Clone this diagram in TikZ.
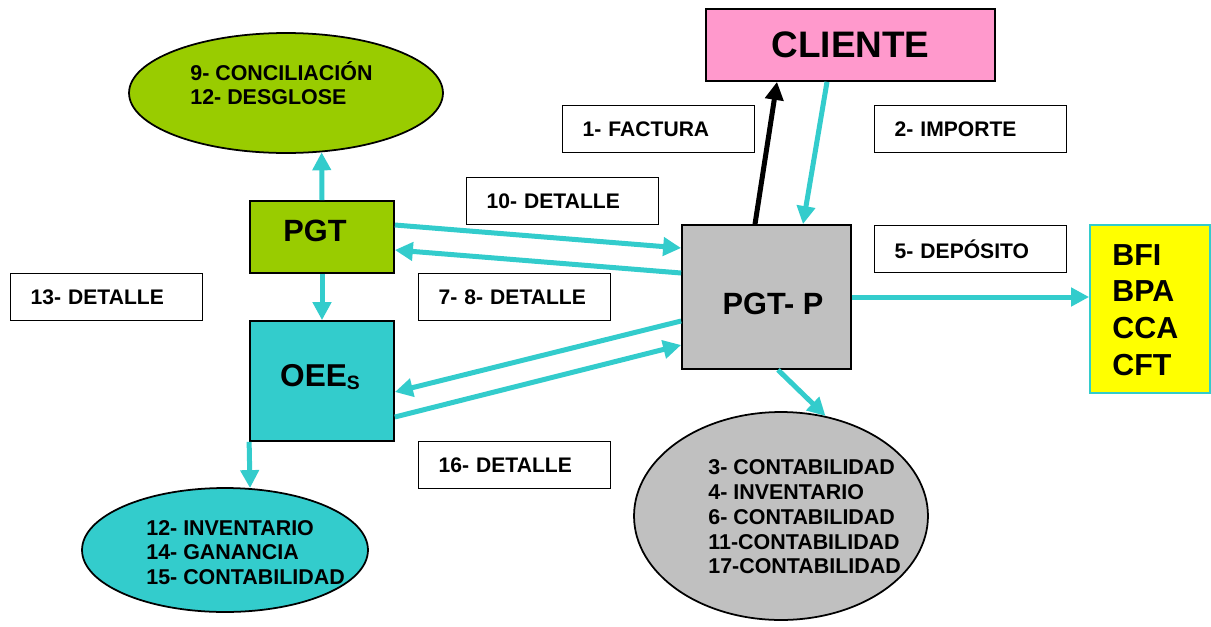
\documentclass[tikz,border=0pt]{standalone}
\usepackage{fontspec}
\setmainfont{Liberation Sans}
\usetikzlibrary{arrows.meta,shapes.geometric,calc}
\definecolor{pgtgreen}{HTML}{99CC00}
\definecolor{oeeteal}{HTML}{33CCCC}
\definecolor{clientpink}{HTML}{FF99CC}
\definecolor{pgtgray}{HTML}{C0C0C0}
\definecolor{bankyellow}{HTML}{FFFF00}

\begin{document}
\begin{tikzpicture}[x=0.02cm,y=-0.02cm,
  every node/.style={font=\bfseries},
  block/.style={draw=black,line width=1pt,rectangle,inner sep=0pt},
  blocktext/.style={inner sep=0pt,font=\bfseries\fontsize{17.5}{20}\selectfont},
  tag/.style={draw=black,line width=0.8pt,rectangle,anchor=north west,
    minimum height=0.94cm,text width=3.04cm,inner xsep=0.4cm,inner ysep=0pt,
    align=left,font=\bfseries\fontsize{12}{14}\selectfont},
  blob/.style={ellipse,draw=black,line width=1pt,inner sep=0pt},
  listtext/.style={anchor=west,align=left,inner sep=0pt,
    font=\bfseries\fontsize{12.2}{14.1}\selectfont},
  flow/.style={draw=oeeteal,line width=0.1cm,-{Triangle[length=0.36cm,width=0.36cm]}},
  sendflow/.style={flow,draw=black}
]
\useasboundingbox (0,0) rectangle (1211,626);

% main blocks
\node[block,fill=clientpink,minimum width=5.78cm,minimum height=1.44cm,
  font=\bfseries\fontsize{21}{25}\selectfont] (cliente) at (850.5,45) {CLIENTE};

\node[block,fill=pgtgreen,minimum width=2.88cm,minimum height=1.44cm] (pgt) at (322,237) {};
\node[blocktext] (pgtT) at (315,231) {PGT};

\node[block,fill=oeeteal,minimum width=2.88cm,minimum height=2.4cm] (oees) at (322,381) {};
\node[blocktext,font=\bfseries\fontsize{18}{20}\selectfont] (oeesT) at (320,377)
  {OEE\raisebox{-1.7pt}{\fontsize{11}{13}\selectfont S}};

\node[block,fill=pgtgray,minimum width=3.38cm,minimum height=2.88cm] (pgtp) at (766.5,297) {};
\node[blocktext] (pgtpT) at (773,304) {PGT- P};

\node[block,draw=oeeteal,fill=bankyellow,minimum width=2.4cm,minimum height=3.36cm] (bfi) at (1150,309) {};
\node[listtext,font=\bfseries\fontsize{17.3}{20.9}\selectfont] (bfiT) at (1112,310)
  {BFI\\BPA\\CCA\\CFT};

% ellipses with their lists
\node[blob,fill=pgtgreen,minimum width=6.28cm,minimum height=2.4cm] (greenE) at (286,93) {};
\node[listtext] (greenT) at (190,83) {9- CONCILIACIÓN\\12- DESGLOSE};

\node[blob,fill=pgtgray,minimum width=5.88cm,minimum height=4.16cm] (grayE) at (781,516) {};
\node[listtext] (grayT) at (708,517)
  {3- CONTABILIDAD\\4- INVENTARIO\\6- CONTABILIDAD\\11-CONTABILIDAD\\17-CONTABILIDAD};

\node[blob,fill=oeeteal,minimum width=5.72cm,minimum height=2.48cm] (tealE) at (225,550) {};
\node[listtext] (tealT) at (146,552.5) {12- INVENTARIO\\14- GANANCIA\\15- CONTABILIDAD};

% step labels
\node[tag] (t1) at (562,105) {1- FACTURA};
\node[tag] (t2) at (874,105) {2- IMPORTE};
\node[tag] (t10) at (466,177) {10- DETALLE};
\node[tag] (t5) at (874,225) {5- DEPÓSITO};
\node[tag] (t13) at (10,273) {13- DETALLE};
\node[tag] (t78) at (418,273) {7- 8- DETALLE};
\node[tag] (t16) at (418,441) {16- DETALLE};

% connectors
\draw[sendflow] ([xshift=-0.23cm]pgtp.north) -- ([xshift=-1.47cm]cliente.south);
\draw[flow] ([xshift=-0.47cm]cliente.south) -- ([xshift=0.73cm]pgtp.north);

\draw[flow] ([yshift=0.24cm]pgt.east) -- ([yshift=0.98cm]pgtp.west);
\draw[flow] ([yshift=0.48cm]pgtp.west) -- ([yshift=-0.26cm]pgt.east);
\draw[flow] ([yshift=-0.48cm]pgtp.west) -- ([yshift=-0.22cm]oees.east);
\draw[flow] ([yshift=-0.72cm]oees.east) -- ([yshift=-0.96cm]pgtp.west);

\draw[flow] (pgt.north) -- (greenE.-59);
\draw[flow] (pgt.south) -- (oees.north);
\draw[flow] (oees.south west) -- (tealE.68);

\draw[flow] ([xshift=0.23cm]pgtp.south) -- (grayE.66);
\draw[flow] (pgtp.east) -- (pgtp.east -| bfi.west);
\end{tikzpicture}
\end{document}
